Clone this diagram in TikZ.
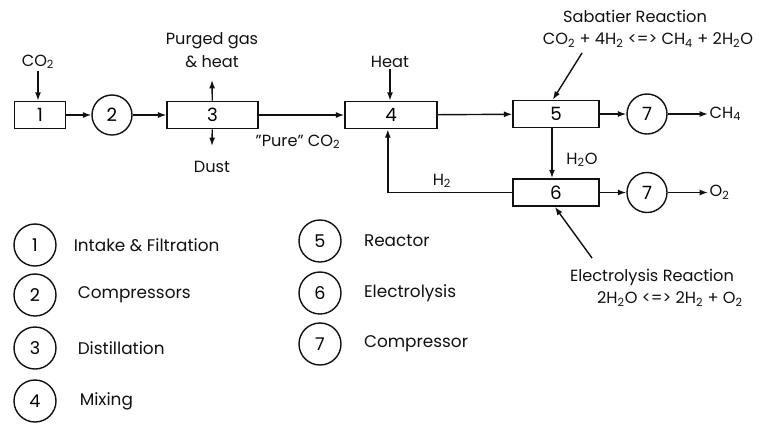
\documentclass[tikz,border=0pt]{standalone}
\usepackage{fontspec}
\setmainfont{Poppins}
\usetikzlibrary{arrows.meta,positioning}
\definecolor{scanink}{HTML}{111111}
\tikzset{
  unitBox/.style={draw=scanink, line width=1pt, minimum height=0.68cm, inner sep=0pt, font=\fontsize{13}{15}\selectfont},
  pumpNode/.style={draw=scanink, line width=1pt, circle, minimum size=1.0cm, inner sep=0pt, font=\fontsize{13}{15}\selectfont},
  keyNode/.style={draw=scanink, line width=1pt, circle, minimum size=1.05cm, inner sep=0pt, font=\fontsize{12.5}{15}\selectfont},
  flowArrow/.style={-{Latex[length=2.1mm,width=1.5mm]}, line width=1pt, draw=scanink},
  noteLabel/.style={font=\fontsize{11.5}{16}\selectfont, align=center, inner sep=1pt, text=scanink},
  keyLabel/.style={font=\fontsize{12}{14}\selectfont, anchor=west, inner sep=0pt, text=scanink}
}

\begin{document}
\begin{tikzpicture}[x=0.025cm, y=-0.025cm]
  \useasboundingbox (0,0) rectangle (760,423);

  % process units
  \node[unitBox, minimum width=1.27cm] (b1) at (40,115) {1};
  \node[pumpNode] (c2) at (112,115) {2};
  \node[unitBox, minimum width=2.27cm] (b3) at (212.5,115) {3};
  \node[unitBox, minimum width=2.3cm] (b4) at (391,115) {4};
  \node[unitBox, minimum width=2.15cm] (b5) at (556,114) {5};
  \node[pumpNode] (c7a) at (647,114) {7};
  \node[unitBox, minimum width=2.15cm] (b6) at (556,192.5) {6};
  \node[pumpNode] (c7b) at (647,192.5) {7};

  % stream labels
  \node[noteLabel] (co2in) at (38,62) {CO\textsubscript{2}};
  \node[noteLabel] (purge) at (212,50) {Purged gas\\\& heat};
  \coordinate (purgeTip) at (212,80);
  \node[noteLabel] (dust) at (212,167) {Dust};
  \coordinate (dustTip) at (212,146);
  \node[noteLabel] (pure) at (298,142) {"Pure" CO\textsubscript{2}};
  \node[noteLabel] (heat) at (390,62) {Heat};
  \node[noteLabel] (h2) at (442,181) {H\textsubscript{2}};
  \node[noteLabel] (h2o) at (582,160) {H\textsubscript{2}O};
  \node[noteLabel, anchor=west] (ch4) at (708,114) {CH\textsubscript{4}};
  \node[noteLabel, anchor=west] (o2) at (708,192.5) {O\textsubscript{2}};

  % reactions
  \node[noteLabel] (sabTitle) at (635,16) {Sabatier Reaction};
  \node[noteLabel] (sabEq) at (648,40) {CO\textsubscript{2} + 4H\textsubscript{2} <=> CH\textsubscript{4} + 2H\textsubscript{2}O};
  \coordinate (sabTail) at (582,53);
  \node[noteLabel] (elecTitle) at (652,277) {Electrolysis Reaction};
  \node[noteLabel] (elecEq) at (670,299) {2H\textsubscript{2}O <=> 2H\textsubscript{2} + O\textsubscript{2}};
  \coordinate (elecTail) at (592,258);

  % flows
  \draw[flowArrow] (co2in.south) -- (co2in.south |- b1.north);
  \draw[flowArrow] (b1) -- (c2);
  \draw[flowArrow] (c2) -- (b3);
  \draw[flowArrow] (b3) -- (purgeTip);
  \draw[flowArrow] (b3) -- (dustTip);
  \draw[flowArrow] (b3) -- (b4);
  \draw[flowArrow] (heat.south) -- (heat.south |- b4.north);
  \draw[flowArrow] (b4) -- (b5);
  \draw[flowArrow] (b5) -- (c7a);
  \draw[flowArrow] (c7a) -- (ch4);
  \draw[flowArrow] ([xshift=-0.1cm]b5.south) -- ([xshift=-0.1cm]b6.north);
  \draw[flowArrow] (b6) -- (c7b);
  \draw[flowArrow] (c7b) -- (o2);
  \draw[flowArrow] (b6.west) -| ([xshift=-0.08cm]b4.south);
  \draw[flowArrow] (sabTail) -- ([xshift=-0.08cm]b5.north);
  \draw[flowArrow] (elecTail) -- ([xshift=-0.03cm]b6.south);

  % key
  \foreach \n/\y/\gap/\txt in {1/245/0.42/Intake \& Filtration, 2/295/0.52/Compressors,
      3/348/0.52/Distillation, 4/401/0.57/Mixing}{
    \node[keyNode] (key\n) at (35,\y) {\n};
    \node[keyLabel, right=\gap cm of key\n] (keyText\n) {\txt};
  }
  \foreach \n/\y/\txt in {5/241/Reactor, 6/293/Electrolysis, 7/344/Compressor}{
    \node[keyNode] (key\n) at (320,\y) {\n};
    \node[keyLabel, right=0.55cm of key\n] (keyText\n) {\txt};
  }
\end{tikzpicture}
\end{document}
